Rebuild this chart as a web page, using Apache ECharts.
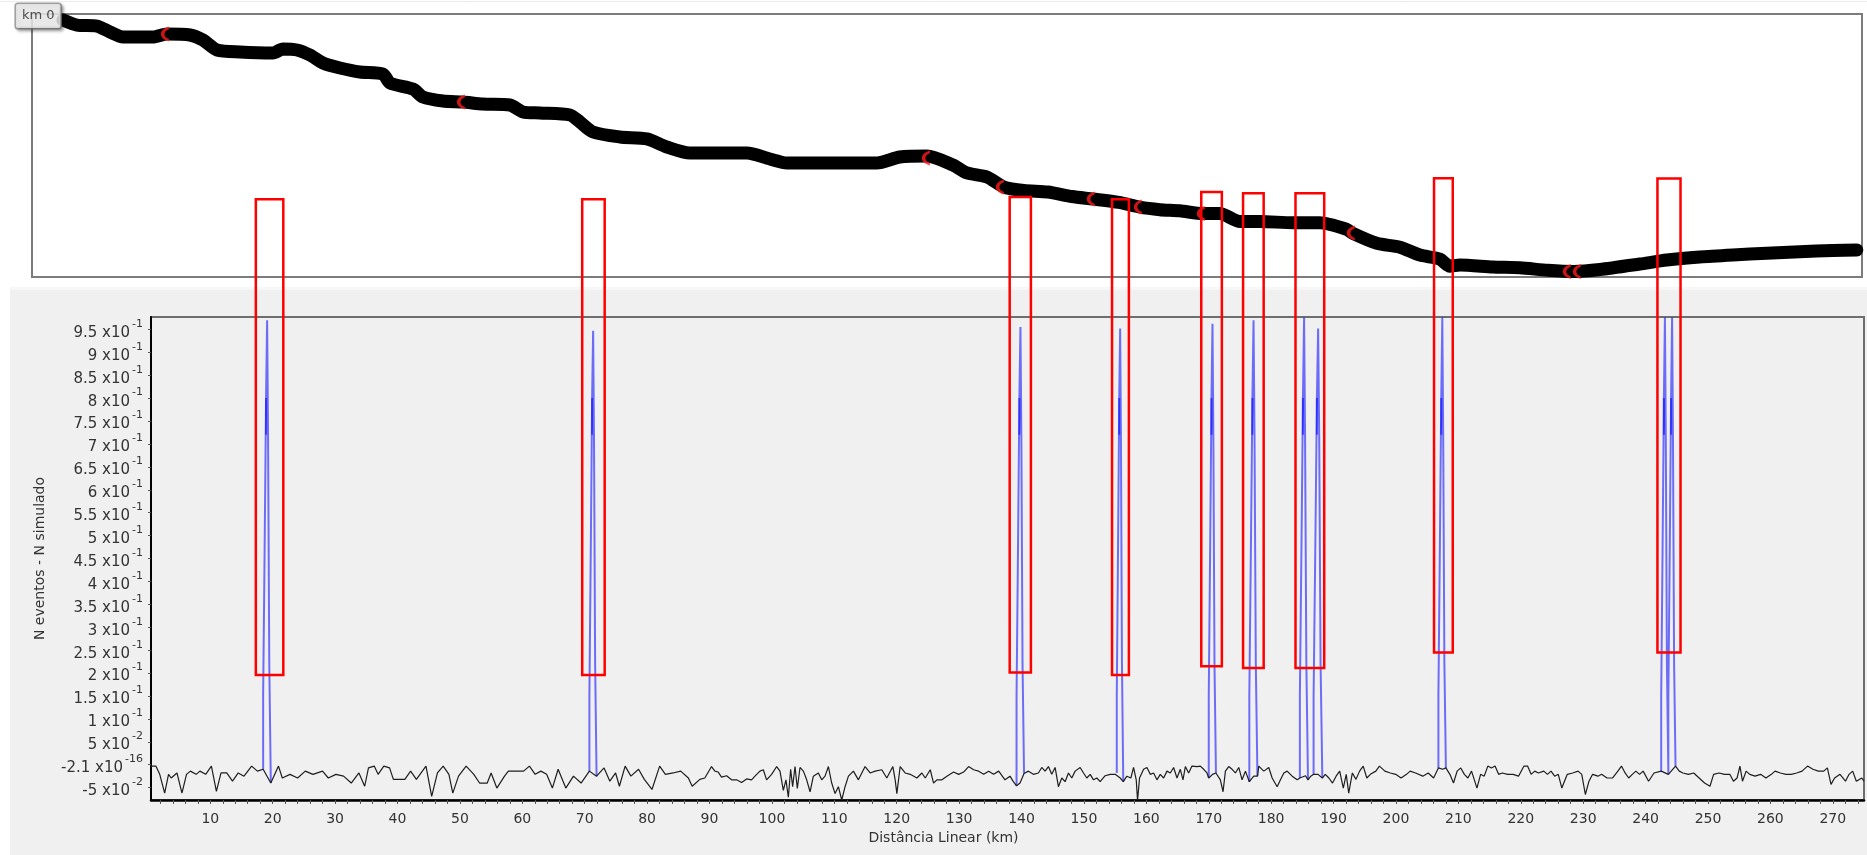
<!DOCTYPE html>
<html>
<head>
<meta charset="utf-8">
<script src="https://cdn.jsdelivr.net/npm/echarts@6.0.0/dist/echarts.min.js"></script>
<style>
  html, body { margin: 0; padding: 0; background: #ffffff; }
  #chart { width: 1867px; height: 855px; }
</style>
</head>
<body>
<div id="chart"></div>
<script>
// ---------- Perfil "N eventos - N simulado" ao longo da rodovia ----------
// [distância linear (km), N eventos - N simulado]
const noise = [
  [0.36,-0.003],[1.28,-0.003],[1.9,-0.021],[2.69,-0.062],[3.31,-0.021],[3.74,-0.029],[4.66,-0.018],[5.46,-0.062],
  [6.19,-0.021],[6.81,-0.014],[7.73,-0.021],[8.34,-0.014],[9.26,-0.021],[10.18,-0.003],[10.98,-0.058],[11.72,-0.018],
  [12.64,-0.018],[13.56,-0.036],[14.48,-0.018],[15.4,-0.025],[16.63,-0.003],[17.55,-0.014],[18.47,-0.010],[19.7,-0.040],
  [20.93,-0.003],[21.54,-0.029],[22.77,-0.021],[24.0,-0.029],[25.22,-0.014],[26.45,-0.021],[27.99,-0.014],[28.91,-0.029],
  [30.13,-0.021],[31.36,-0.025],[32.59,-0.040],[33.82,-0.018],[34.74,-0.047],[35.35,-0.007],[36.27,-0.003],[36.89,-0.021],
  [37.81,-0.003],[38.73,-0.007],[39.34,-0.032],[41.18,-0.032],[42.1,-0.014],[43.03,-0.032],[44.56,-0.003],[45.48,-0.069],
  [46.4,-0.018],[47.32,-0.003],[48.24,-0.021],[48.86,-0.062],[49.78,-0.025],[51.0,-0.003],[52.23,-0.021],[53.15,-0.040],
  [54.38,-0.040],[55.0,-0.018],[55.92,-0.051],[57.15,-0.025],[57.76,-0.014],[58.99,-0.014],[60.21,-0.014],[61.14,-0.003],
  [62.06,-0.021],[62.98,-0.014],[63.9,-0.021],[64.82,-0.051],[65.74,-0.010],[66.97,-0.051],[68.2,-0.025],[69.42,-0.040],
  [70.75,-0.014],[71.9,-0.025],[73.1,-0.007],[74.03,-0.036],[74.95,-0.018],[75.56,-0.047],[76.48,-0.003],[77.4,-0.025],
  [78.63,-0.010],[79.55,-0.032],[80.78,-0.054],[82.01,-0.003],[82.93,-0.021],[84.16,-0.018],[85.38,-0.014],[86.61,-0.029],
  [87.22,-0.047],[88.45,-0.032],[89.25,-0.029],[90.32,-0.004],[90.86,-0.014],[91.39,-0.016],[91.93,-0.027],[92.73,-0.024],
  [93.53,-0.033],[94.34,-0.033],[95.14,-0.039],[95.94,-0.031],[96.74,-0.033],[97.28,-0.025],[98.08,-0.014],[98.62,-0.011],
  [99.15,-0.033],[99.95,-0.021],[100.76,-0.004],[101.29,-0.014],[101.83,-0.056],[102.25,-0.033],[102.63,-0.071],[103.0,-0.010],
  [103.32,-0.048],[103.7,-0.004],[104.07,-0.052],[104.5,-0.006],[105.04,-0.014],[105.57,-0.033],[106.11,-0.059],[106.64,-0.025],
  [107.44,-0.018],[107.98,-0.033],[108.51,-0.025],[109.05,-0.004],[109.58,-0.040],[110.12,-0.063],[110.65,-0.048],[111.19,-0.077],
  [111.72,-0.048],[112.26,-0.025],[113.06,-0.014],[113.86,-0.033],[114.93,-0.004],[115.74,-0.018],[116.54,-0.014],[117.61,-0.011],
  [118.41,-0.029],[119.38,-0.004],[119.75,-0.033],[120.02,-0.063],[120.55,-0.004],[121.35,-0.018],[122.16,-0.021],[123.23,-0.029],
  [124.03,-0.018],[124.57,-0.029],[125.37,-0.011],[125.9,-0.040],[126.44,-0.033],[127.24,-0.033],[128.04,-0.025],[129.11,-0.016],
  [129.92,-0.021],[130.72,-0.016],[131.52,-0.004],[132.32,-0.011],[133.13,-0.014],[133.93,-0.021],[134.73,-0.014],[135.53,-0.021],
  [136.34,-0.014],[137.35,-0.033],[138.15,-0.025],[138.69,-0.037],[139.2,-0.046],[139.76,-0.040],[140.4,-0.019],[141.1,-0.014],
  [141.9,-0.021],[142.7,-0.018],[143.24,-0.006],[143.77,-0.014],[144.31,-0.004],[144.84,-0.021],[145.38,-0.006],[145.91,-0.048],
  [146.45,-0.029],[146.98,-0.037],[147.52,-0.018],[148.05,-0.029],[148.59,-0.014],[149.39,-0.006],[149.93,-0.018],[150.46,-0.029],
  [151.0,-0.021],[151.53,-0.033],[152.07,-0.029],[152.6,-0.037],[153.4,-0.024],[154.21,-0.021],[155.01,-0.021],[155.26,-0.018],
  [155.81,-0.029],[156.3,-0.037],[156.88,-0.025],[157.52,-0.029],[157.95,-0.006],[158.38,-0.033],[158.59,-0.078],[158.91,-0.029],
  [159.56,-0.010],[160.09,-0.006],[160.63,-0.021],[161.16,-0.018],[161.7,-0.033],[162.23,-0.021],[162.77,-0.029],[163.3,-0.014],
  [163.84,-0.018],[164.37,-0.006],[164.91,-0.029],[165.44,-0.010],[165.87,-0.033],[166.25,-0.004],[166.78,-0.018],[167.31,-0.003],
  [168.12,-0.004],[168.65,-0.003],[169.19,-0.010],[169.72,-0.018],[170.0,-0.029],[170.6,-0.021],[171.15,-0.018],[171.86,-0.033],
  [172.29,-0.059],[172.67,-0.014],[173.2,-0.004],[173.74,-0.010],[174.27,-0.018],[174.81,-0.006],[175.34,-0.033],[175.88,-0.014],
  [176.5,-0.037],[177.21,-0.025],[177.8,-0.025],[178.02,-0.003],[178.82,-0.014],[179.62,-0.006],[180.16,-0.029],[180.96,-0.048],
  [181.49,-0.033],[182.03,-0.018],[182.56,-0.014],[183.37,-0.025],[184.17,-0.033],[184.6,-0.029],[185.51,-0.024],[185.9,-0.033],
  [186.35,-0.025],[186.8,-0.021],[187.51,-0.021],[188.2,-0.029],[188.67,-0.021],[189.25,-0.029],[189.83,-0.040],[190.41,-0.025],
  [190.98,-0.014],[191.56,-0.051],[192.03,-0.021],[192.43,-0.062],[193.01,-0.018],[193.59,-0.032],[194.17,-0.014],[194.75,-0.003],
  [195.33,-0.029],[195.9,-0.021],[196.77,-0.014],[197.35,-0.003],[198.22,-0.014],[199.09,-0.018],[199.96,-0.021],[200.82,-0.029],
  [201.69,-0.021],[202.27,-0.014],[203.14,-0.018],[204.3,-0.025],[205.17,-0.018],[206.03,-0.029],[206.8,-0.007],[207.48,-0.010],
  [208.0,-0.007],[208.64,-0.021],[209.22,-0.040],[209.8,-0.014],[210.38,-0.007],[210.96,-0.021],[211.53,-0.029],[212.11,-0.014],
  [212.98,-0.051],[213.56,-0.021],[214.14,-0.025],[214.72,-0.003],[215.3,-0.007],[215.88,-0.003],[216.45,-0.021],[217.03,-0.018],
  [217.9,-0.021],[218.77,-0.021],[219.64,-0.025],[220.51,-0.003],[221.09,-0.003],[221.66,-0.021],[222.24,-0.014],[222.82,-0.018],
  [223.69,-0.014],[224.27,-0.021],[224.85,-0.014],[225.43,-0.025],[226.01,-0.021],[226.58,-0.051],[227.45,-0.021],[228.32,-0.018],
  [229.19,-0.014],[229.77,-0.021],[230.35,-0.065],[230.93,-0.036],[231.51,-0.021],[232.37,-0.025],[232.95,-0.021],[233.82,-0.029],
  [234.69,-0.029],[235.56,-0.014],[236.14,-0.003],[236.72,-0.018],[237.29,-0.029],[237.87,-0.021],[238.45,-0.014],[239.03,-0.021],
  [239.61,-0.014],[240.48,-0.036],[241.35,-0.018],[242.5,-0.014],[243.65,-0.021],[244.8,-0.003],[245.4,-0.014],[245.98,-0.018],
  [246.85,-0.021],[247.71,-0.018],[248.58,-0.029],[249.45,-0.040],[250.32,-0.047],[250.9,-0.021],[251.77,-0.018],[252.63,-0.021],
  [253.5,-0.021],[254.08,-0.036],[254.66,-0.029],[255.12,-0.003],[255.53,-0.036],[256.11,-0.014],[256.69,-0.021],[257.55,-0.025],
  [258.42,-0.021],[259.29,-0.029],[260.16,-0.021],[260.74,-0.014],[261.61,-0.018],[262.48,-0.021],[263.34,-0.021],[264.21,-0.018],
  [265.08,-0.014],[265.95,-0.003],[266.82,-0.010],[267.68,-0.014],[268.55,-0.014],[269.13,-0.007],[269.71,-0.043],[270.29,-0.029],
  [271.16,-0.021],[272.03,-0.036],[272.61,-0.021],[273.19,-0.014],[273.77,-0.036],[274.64,-0.029],[275.0,-0.036]
];

// Picos de eventos: início e fim (km), valor de pico e nível de base em cada lado
const spikeStart = [18.47, 70.75, 139.2, 155.26, 170.0, 176.5, 184.6, 186.8, 206.8, 242.5, 243.65];
const spikeEnd   = [19.7, 71.9, 140.4, 156.3, 171.15, 177.8, 185.9, 188.2, 208.0, 243.65, 244.8];
const spikePeak  = [0.970, 0.947, 0.955, 0.952, 0.962, 0.970, 0.976, 0.952, 0.976, 0.976, 0.976];
const spikeBaseL = [-0.010, -0.014, -0.046, -0.018, -0.029, -0.037, -0.029, -0.021, -0.007, -0.014, -0.021];
const spikeBaseR = [-0.040, -0.025, -0.019, -0.037, -0.018, -0.025, -0.033, -0.029, -0.007, -0.021, -0.003];
// patamares da subida e da descida de cada pico
const riseLevels = [0.15, 0.48, 0.80];
const fallLevels = [0.72, 0.22];
// posição relativa de cada degrau dentro da largura do pico
const riseAt = [0, 0.2, 0.38, 0.52];
const fallAt = [0.64, 0.8, 1];

// Trechos destacados (km inicial, km final, topo, base)
const boxFrom   = [17.3, 69.6, 138.1, 154.5, 168.8, 175.5, 183.9, 206.1, 241.9];
const boxTo     = [21.7, 73.2, 141.5, 157.2, 172.1, 178.8, 188.5, 209.1, 245.6];
const boxTop    = [1.234, 1.234, 1.239, 1.234, 1.250, 1.247, 1.247, 1.280, 1.279];
const boxBottom = [0.196, 0.196, 0.201, 0.196, 0.215, 0.211, 0.211, 0.245, 0.245];

// Eixos
const xLabelValues = [10,20,30,40,50,60,70,80,90,100,110,120,130,140,150,160,170,180,190,200,210,220,230,240,250,260,270];
const yTickValues = [-0.05, 0, 0.05, 0.1, 0.15, 0.2, 0.25, 0.3, 0.35, 0.4, 0.45, 0.5, 0.55, 0.6, 0.65, 0.7, 0.75, 0.8, 0.85, 0.9, 0.95];
const yTickMantissa = ['-5','-2.1','5','1','1.5','2','2.5','3','3.5','4','4.5','5','5.5','6','6.5','7','7.5','8','8.5','9','9.5'];
const yTickExponent = ['-2','-16','-2','-1','-1','-1','-1','-1','-1','-1','-1','-1','-1','-1','-1','-1','-1','-1','-1','-1','-1'];

// ---------- Traçado da rodovia (painel superior) ----------
// [leste (km), norte (km)]
const route = [
  [4.97,41.19],[7.21,40.38],[10.42,40.22],[12.5,39.26],[14.58,38.46],[19.39,38.46],[21.63,38.94],[25.32,38.78],
  [27.4,37.98],[29.65,36.38],[33.33,36.06],[38.62,35.9],[40.22,36.54],[42.47,36.38],[44.55,35.58],[46.63,34.29],
  [49.36,33.49],[52.56,32.85],[56.25,32.53],[57.37,31.09],[61.06,30.13],[62.66,28.85],[65.87,28.21],[69.07,28.04],
  [72.28,27.72],[76.6,27.56],[78.69,26.44],[81.41,26.28],[86.22,25.96],[87.82,24.84],[89.9,23.24],[94.23,22.44],
  [98.56,22.12],[101.76,20.83],[105.45,19.87],[109.13,19.87],[114.58,19.87],[118.27,18.91],[120.99,18.27],[125.16,18.27],
  [130.61,18.27],[135.42,18.27],[139.1,19.23],[143.43,19.39],[147.6,17.95],[149.84,16.67],[153.04,16.03],[155.77,14.42],
  [158.97,13.86],[162.82,13.62],[166.67,12.9],[170.03,12.5],[174.2,11.96],[177.56,11.19],[180.77,10.79],[183.97,10.61],
  [187.66,10.16],[190.38,10.16],[193.59,8.89],[196.79,8.89],[202.08,8.7],[206.41,8.7],[210.74,7.63],[211.7,6.99],
  [215.54,5.4],[219.23,4.78],[222.44,3.51],[225.64,2.87],[227.24,1.73],[228.85,1.92],[234.13,1.6],[238.46,1.47],
  [242.95,1.07],[247.12,0.88],[251.28,1.2],[257.69,2.08],[262.02,2.72],[267.31,3.21],[272.6,3.53],[278.04,3.8],
  [283.33,4.05],[288.62,4.25],[292.47,4.33]
];
// ocorrências marcadas sobre o traçado
const routeMarks = [
  [21.63,38.94],[69.07,28.04],[143.59,19.07],[155.45,14.42],[170.03,12.5],[177.56,11.22],[187.66,10.16],
  [211.7,7.05],[246.31,0.88],[247.92,0.88]
];

// ---------- Construção das séries ----------
// cada pico é um único traço em degraus; o trecho em que a descida
// passa por cima da subida (entre 0,72 e 0,80) fica mais escuro
const spikeData = [];
const overlapData = [];
for (let i = 0; i < spikeStart.length; i++) {
  const s = spikeStart[i], w = spikeEnd[i] - spikeStart[i];
  let level = spikeBaseL[i];
  spikeData.push([s, level]);
  const upLevels = riseLevels.concat([spikePeak[i]]);
  for (let k = 0; k < riseAt.length; k++) {
    const x = s + riseAt[k] * w;
    spikeData.push([x, level]);
    level = upLevels[k];
    spikeData.push([x, level]);
  }
  const downLevels = fallLevels.concat([spikeBaseR[i]]);
  for (let k = 0; k < fallAt.length; k++) {
    const x = s + fallAt[k] * w;
    spikeData.push([x, level]);
    level = downLevels[k];
    spikeData.push([x, level]);
  }
  spikeData.push([null, null]);
  const xo = s + riseAt[2] * w;
  overlapData.push([xo, fallLevels[0]], [xo, riseLevels[2]], [null, null]);
}

const boxData = boxFrom.map((v, i) => [v, boxTo[i], boxTop[i], boxBottom[i]]);

const xTickValues = [];
for (let v = 2; v <= 274; v += 2) xTickValues.push(v);

const FONT = '"DejaVu Sans", "Liberation Sans", Arial, sans-serif';
const TEXT = '#333333';
const BLUE = 'rgba(0,0,255,0.55)';

const chart = echarts.init(document.getElementById('chart'), null, { renderer: 'canvas' });
chart.setOption({
  animation: false,
  backgroundColor: '#ffffff',
  graphic: [
    { type: 'rect', z: -5, silent: true, shape: { x: 10, y: 287, width: 1857, height: 568 }, style: { fill: '#f0f0f0' } },
    { type: 'rect', z: -4, silent: true, shape: { x: 10, y: 287, width: 1857, height: 3 }, style: { fill: '#f7f7f7' } },
    { type: 'line', z: -4, silent: true, shape: { x1: 0, y1: 1.5, x2: 1867, y2: 1.5 }, style: { stroke: '#ececec', lineWidth: 1 } }
  ],
  grid: [
    { left: 32, top: 14, right: 5, height: 263, show: true, borderColor: '#7c7c7c', borderWidth: 2, backgroundColor: '#ffffff' },
    { left: 151, top: 317, right: 3, bottom: 55, show: true, borderColor: '#6e6e6e', borderWidth: 2 }
  ],
  xAxis: [
    { type: 'value', gridIndex: 0, min: 0, max: 293.3, show: false },
    {
      type: 'value', gridIndex: 1, min: 0.5, max: 275,
      splitLine: { show: false },
      axisLine: { show: true, onZero: false, lineStyle: { color: '#000000', width: 2.5 } },
      axisTick: { show: true, customValues: xTickValues, length: 4, lineStyle: { color: '#555555', width: 1 } },
      axisLabel: { customValues: xLabelValues, margin: 12, fontSize: 14, color: TEXT, fontFamily: FONT },
      name: 'Distância Linear (km)', nameLocation: 'middle', nameGap: 31,
      nameTextStyle: { fontSize: 14, color: TEXT, fontFamily: FONT, padding: [0, 128, 0, 0] }
    }
  ],
  yAxis: [
    { type: 'value', gridIndex: 0, min: 0, max: 42.15, show: false },
    {
      type: 'value', gridIndex: 1, min: -0.077, max: 0.977,
      splitLine: { show: false },
      axisLine: { show: true, onZero: false, lineStyle: { color: '#000000', width: 2 } },
      axisTick: { show: true, customValues: yTickValues, length: 3, lineStyle: { color: '#555555', width: 1 } },
      axisLabel: {
        customValues: yTickValues, margin: 8,
        formatter: function (v) {
          const i = yTickValues.findIndex(t => Math.abs(t - v) < 1e-9);
          return '{m|' + yTickMantissa[i] + ' x10}{e|' + yTickExponent[i] + '}';
        },
        rich: {
          m: { fontSize: 15, color: TEXT, fontFamily: FONT, lineHeight: 22, verticalAlign: 'bottom' },
          e: { fontSize: 11, color: TEXT, fontFamily: FONT, lineHeight: 11, verticalAlign: 'top', padding: [0, 0, 0, 2] }
        }
      },
      name: 'N eventos - N simulado', nameLocation: 'middle', nameGap: 104, nameRotate: 90,
      nameTextStyle: { fontSize: 14, color: TEXT, fontFamily: FONT }
    }
  ],
  series: [
    {
      name: 'traçado', type: 'line', xAxisIndex: 0, yAxisIndex: 0, data: route,
      showSymbol: false, smooth: 0.25, z: 3,
      lineStyle: { color: '#000000', width: 13, cap: 'round', join: 'round' }
    },
    {
      name: 'ocorrências', type: 'scatter', xAxisIndex: 0, yAxisIndex: 0, data: routeMarks, z: 4,
      symbol: 'path://M10,0 C2,4 2,16 10,20 L10,16.5 C5.5,14 5.5,6 10,3.5 Z', symbolSize: [8, 15], symbolOffset: [-2, 0],
      itemStyle: { color: '#ff1a1a' }
    },
    {
      name: 'km 0', type: 'scatter', xAxisIndex: 0, yAxisIndex: 0, data: [route[0]], z: 5,
      symbolSize: 1, itemStyle: { color: 'rgba(0,0,0,0)' },
      label: {
        show: true, formatter: 'km 0', position: 'left', distance: 2, offset: [0, -4],
        fontSize: 13, color: '#222222', fontFamily: FONT,
        backgroundColor: '#f4f4f4', borderColor: '#8a8a8a', borderWidth: 1.5, borderRadius: 2,
        padding: [6, 6, 5, 6],
        shadowColor: 'rgba(0,0,0,0.35)', shadowBlur: 3, shadowOffsetX: 2, shadowOffsetY: 2
      }
    },
    {
      name: 'picos', type: 'line', xAxisIndex: 1, yAxisIndex: 1, data: spikeData,
      showSymbol: false, connectNulls: false, z: 3,
      lineStyle: { color: BLUE, width: 2 }
    },
    {
      name: 'sobreposição', type: 'line', xAxisIndex: 1, yAxisIndex: 1, data: overlapData,
      showSymbol: false, connectNulls: false, z: 3,
      lineStyle: { color: BLUE, width: 2 }
    },
    {
      name: 'N eventos - N simulado', type: 'line', xAxisIndex: 1, yAxisIndex: 1, data: noise,
      showSymbol: false, z: 4,
      lineStyle: { color: '#1e1e1e', width: 1.2 }
    },
    {
      name: 'trechos', type: 'custom', xAxisIndex: 1, yAxisIndex: 1, data: boxData, z: 20, clip: false,
      encode: { x: [0, 1], y: [2, 3] },
      renderItem: function (params, api) {
        const a = api.coord([api.value(0), api.value(2)]);
        const b = api.coord([api.value(1), api.value(3)]);
        return {
          type: 'rect',
          shape: { x: a[0], y: a[1], width: b[0] - a[0], height: b[1] - a[1] },
          style: { fill: 'none', stroke: '#ff0000', lineWidth: 2.5 }
        };
      }
    }
  ]
});
</script>
</body>
</html>
